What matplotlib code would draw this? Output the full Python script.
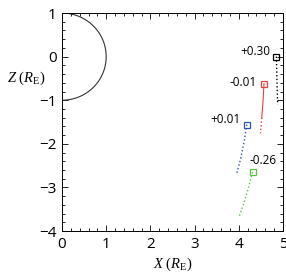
import numpy as np
import matplotlib
matplotlib.use("Agg")
import matplotlib.pyplot as plt
from matplotlib.ticker import MultipleLocator

# traces: start marker first, then the tail going down
black_x = [4.85, 4.86, 4.87, 4.88]
black_z = [0.00, -0.40, -0.80, -1.10]
red_x = [4.57, 4.55, 4.52, 4.49]
red_z = [-0.62, -1.00, -1.40, -1.76]
blue_x = [4.18, 4.12, 4.04, 3.95]
blue_z = [-1.56, -1.95, -2.35, -2.70]
green_x = [4.31, 4.22, 4.11, 4.00]
green_z = [-2.65, -3.00, -3.38, -3.69]
labels = ["+0.30", "-0.01", "+0.01", "-0.26"]

plt.rcParams['font.family'] = ['Open Sans', 'DejaVu Sans']
plt.rcParams['mathtext.fontset'] = 'custom'
plt.rcParams['mathtext.it'] = 'Liberation Serif:italic'
plt.rcParams['mathtext.rm'] = 'Liberation Serif'

fig = plt.figure(figsize=(2.86, 2.72), dpi=100)
ax = fig.add_axes([0.2168, 0.1507, 0.7727, 0.8013])

# earth
th = np.linspace(-np.pi / 2, np.pi / 2, 200)
ax.plot(np.cos(th), np.sin(th), color='#333333', lw=0.8)

series = [(black_x, black_z, 'black', ':'), (red_x, red_z, '#e8413c', '-'),
          (blue_x, blue_z, '#2d55b5', ':'), (green_x, green_z, '#5cc24a', ':')]
offs = [(-0.47, 0.11), (-0.48, 0.03), (-0.49, 0.11), (0.24, 0.26)]
for (xs, zs, c, ls), lab, (dx, dz) in zip(series, labels, offs):
    if ls == '-':
        ax.plot(xs[:3], zs[:3], '-', color=c, lw=0.8)
        ax.plot(xs[2:], zs[2:], ':', color=c, lw=1.0)
    else:
        ax.plot(xs, zs, ':', color=c, lw=1.0)
    ax.plot(xs[0], zs[0], 's', mfc='none', mec=c, ms=4.5, mew=0.9)
    ax.text(xs[0] + dx, zs[0] + dz, lab, fontsize=8.5, ha='center', va='center')

ax.set_xlim(0, 5)
ax.set_ylim(-4, 1)
ax.xaxis.set_major_locator(MultipleLocator(1))
ax.yaxis.set_major_locator(MultipleLocator(1))
ax.xaxis.set_minor_locator(MultipleLocator(0.2))
ax.yaxis.set_minor_locator(MultipleLocator(0.2))
ax.tick_params(which='both', direction='in', top=True, right=True, width=0.6)
ax.tick_params(which='major', length=4, labelsize=11, pad=4)
ax.tick_params(which='minor', length=2)
for s in ax.spines.values():
    s.set_linewidth(0.7)

ax.set_xlabel(r'$X\ (R_{\mathrm{E}})$', fontsize=10.5, labelpad=3)
ax.text(-0.075, -0.5, r'$Z\ (R_{\mathrm{E}})$', fontsize=10.5,
        transform=ax.get_yaxis_transform(), ha='right', va='center')

fig.savefig('out.png', dpi=100)
